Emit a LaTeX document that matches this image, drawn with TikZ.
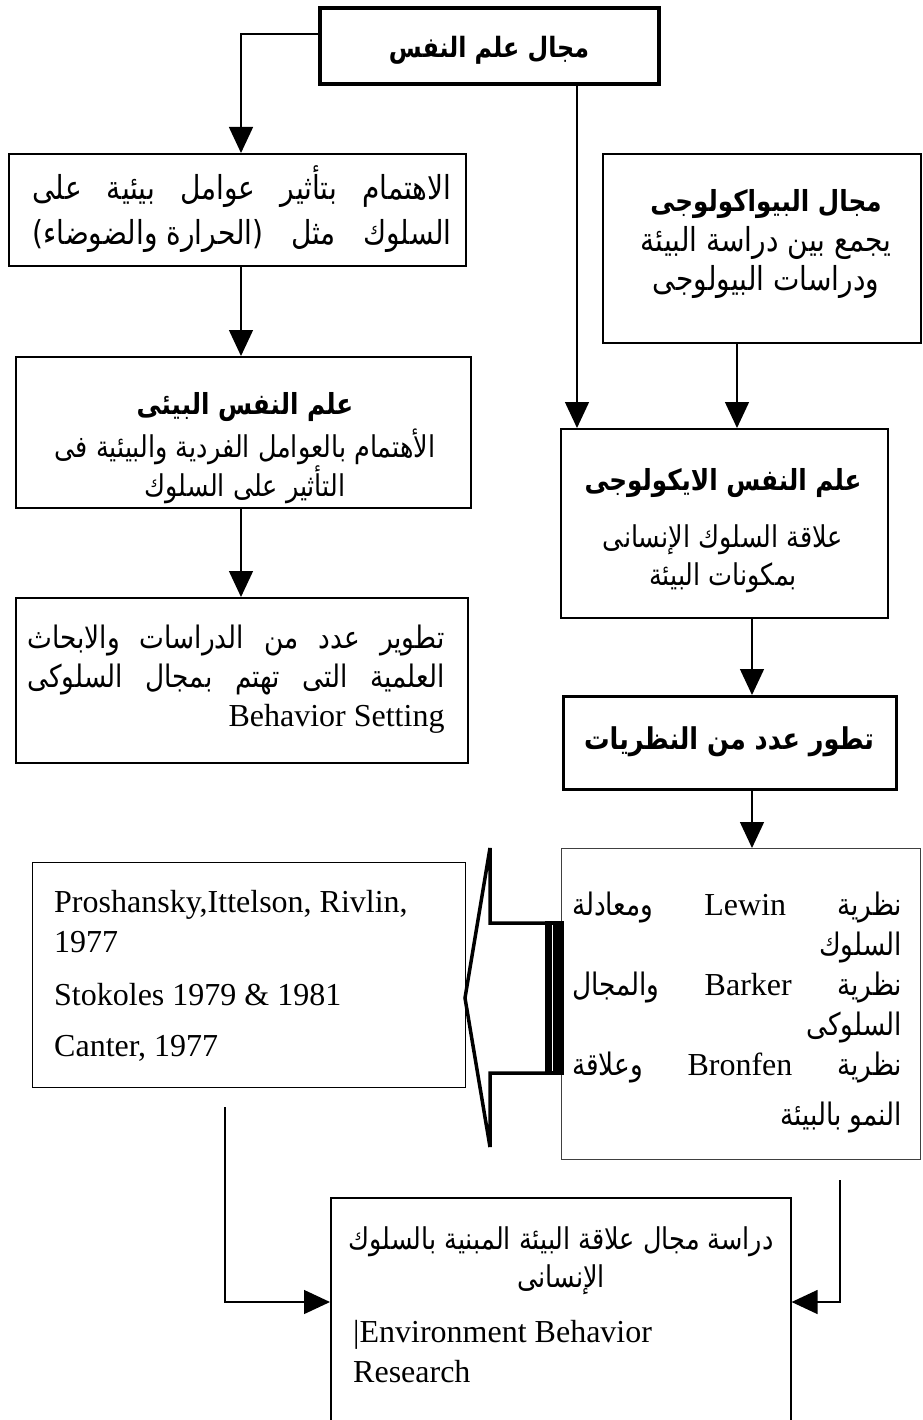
\documentclass[tikz,border=0pt]{standalone}
\usepackage{fontspec}
\setmainfont{Liberation Serif}
\newfontfamily\arabicfont[Script=Arabic, FakeStretch=0.85]{DejaVu Sans}
\TeXXeTstate=1
\usetikzlibrary{arrows.meta,positioning,calc}

\newcommand{\rl}[1]{\beginR#1\endR}

\tikzset{
  box/.style={rectangle, draw=black, line width=1.6pt, anchor=north west, inner sep=0pt},
  arr/.style={line width=1.4pt, -{Triangle[length=26pt,width=24pt]}},
  artitle/.style={font=\arabicfont\bfseries\fontsize{29}{34}\selectfont, inner sep=0pt},
  artx/.style={font=\arabicfont\fontsize{30}{38}\selectfont, align=center, inner sep=0pt},
  latx/.style={font=\fontsize{32}{37}\selectfont, align=left, inner sep=0pt, anchor=west},
}

\begin{document}
\begin{tikzpicture}[x=1pt, y=-1pt]
  \useasboundingbox (0,0) rectangle (922,1420);

  % boxes
  \node[box, line width=4pt, minimum width=339pt, minimum height=76pt] (psy) at (318,6) {};
  \node[box, minimum width=457pt, minimum height=112pt] (fx) at (8,153) {};
  \node[box, minimum width=318pt, minimum height=189pt] (bio) at (602,153) {};
  \node[box, minimum width=455pt, minimum height=151pt] (envpsy) at (15,356) {};
  \node[box, minimum width=327pt, minimum height=189pt] (eco) at (560,428) {};
  \node[box, minimum width=452pt, minimum height=165pt] (dev) at (15,597) {};
  \node[box, line width=3pt, minimum width=333pt, minimum height=93pt] (theo) at (562,695) {};
  \node[box, line width=1pt, draw=black!75, minimum width=359pt, minimum height=311pt] (theor) at (561,848) {};
  \node[box, line width=1.4pt, minimum width=433pt, minimum height=225pt] (refs) at (32,862) {};
  \node[box, minimum width=460pt, minimum height=260pt] (ebr) at (330,1197) {};

  % texts
  \node[artitle, font=\arabicfont\bfseries\fontsize{28}{34}\selectfont] (psyt) at (489,50) {\rl{مجال علم النفس}};
  \node[artx, font=\arabicfont\fontsize{33}{45}\selectfont] (fxt) at (242,209)
    {\hbox to 419pt{\beginR الاهتمام\hfill بتأثير\hfill عوامل\hfill بيئية\hfill على\endR}\\
     \hbox to 419pt{\beginR السلوك\hfill مثل\hfill (الحرارة والضوضاء)\endR}};
  \node[artitle] (biot1) at (766,204) {\rl{مجال البيواكولوجى}};
  \node[artx, font=\arabicfont\fontsize{33}{39}\selectfont] (biot2) at (766,262) {\rl{يجمع بين دراسة البيئة}\\ \rl{ودراسات البيولوجى}};
  \node[artitle] (envpsyt1) at (245,407) {\rl{علم النفس البيئى}};
  \node[artx] (envpsyt2) at (245,466) {\rl{الأهتمام بالعوامل الفردية والبيئية فى}\\ \rl{التأثير على السلوك}};
  \node[artitle] (ecot1) at (723,483) {\rl{علم النفس الايكولوجى}};
  \node[artx] (ecot2) at (723,559) {\rl{علاقة السلوك الإنسانى}\\ \rl{بمكونات البيئة}};
  \node[artitle, font=\arabicfont\bfseries\fontsize{30}{34}\selectfont] (theot) at (729,742) {\rl{تطور عدد من النظريات}};
  \node[artx, font=\arabicfont\fontsize{31}{39}\selectfont] (devt) at (236,679)
    {\hbox to 417pt{\beginR تطوير\hfill عدد\hfill من\hfill الدراسات\hfill والابحاث\endR}\\
     \hbox to 417pt{\beginR العلمية\hfill التى\hfill تهتم\hfill بمجال\hfill السلوكى\endR}\\
     \hbox to 417pt{\hfill{\rmfamily\fontsize{32}{37}\selectfont Behavior Setting}}};
  \node[artx, font=\arabicfont\fontsize{31}{40}\selectfont] (theort) at (737,1012)
    {\hbox to 330pt{\beginR نظرية\hfill{\rmfamily\fontsize{32}{37}\selectfont Lewin}\hfill ومعادلة\endR}\\
     \hbox to 330pt{\beginR السلوك\hfill\endR}\\
     \hbox to 330pt{\beginR نظرية\hfill{\rmfamily\fontsize{32}{37}\selectfont Barker}\hfill والمجال\endR}\\
     \hbox to 330pt{\beginR السلوكى\hfill\endR}\\
     \hbox to 330pt{\beginR نظرية\hfill{\rmfamily\fontsize{32}{37}\selectfont Bronfen}\hfill وعلاقة\endR}\\[10pt]
     \hbox to 330pt{\beginR النمو بالبيئة\hfill\endR}};
  \node[latx] (refst1) at (54,905) {Proshansky,Ittelson, Rivlin,};
  \node[latx] (refst2) at (54,942) {1977};
  \node[latx] (refst3) at (54,995) {Stokoles 1979 \& 1981};
  \node[latx] (refst4) at (54,1048) {Canter, 1977};
  \node[artx] (ebrt1) at (561,1261) {\rl{دراسة مجال علاقة البيئة المبنية بالسلوك}\\ \rl{الإنسانى}};
  \node[latx] (ebrt2) at (353,1335) {|Environment Behavior};
  \node[latx] (ebrt3) at (353,1372) {Research};

  % connectors
  \coordinate (colL) at (241,0);
  \coordinate (colM) at (577,0);
  \coordinate (colB) at (737,0);
  \coordinate (colR) at (752,0);
  \coordinate (refsout) at (225,1107);
  \coordinate (theorout) at (840,1180);
  \draw[arr] ([yshift=12pt]psy.west) -| (fx.north -| colL);
  \draw[arr] (fx.south -| colL) -- (envpsy.north -| colL);
  \draw[arr] (envpsy.south -| colL) -- (dev.north -| colL);
  \draw[arr] (psy.south -| colM) -- (eco.north -| colM);
  \draw[arr] (bio.south -| colB) -- (eco.north -| colB);
  \draw[arr] (eco.south -| colR) -- (theo.north -| colR);
  \draw[arr] (theo.south -| colR) -- (theor.north -| colR);
  \draw[arr] (refsout) |- ([yshift=-105pt]ebr.north west);
  \draw[arr] (theorout) |- ([yshift=-105pt]ebr.north east);

  % hollow arrow from the theories to the references
  \draw[line width=3.5pt] (563,923) -- (490,923) -- (490,848) -- (465,998)
    -- (490,1147) -- (490,1073) -- (563,1073);
  \fill (545,921) rectangle (564,1075);
  \draw[white, line width=0.8pt] (552,925) -- (552,1071);
\end{tikzpicture}
\end{document}
